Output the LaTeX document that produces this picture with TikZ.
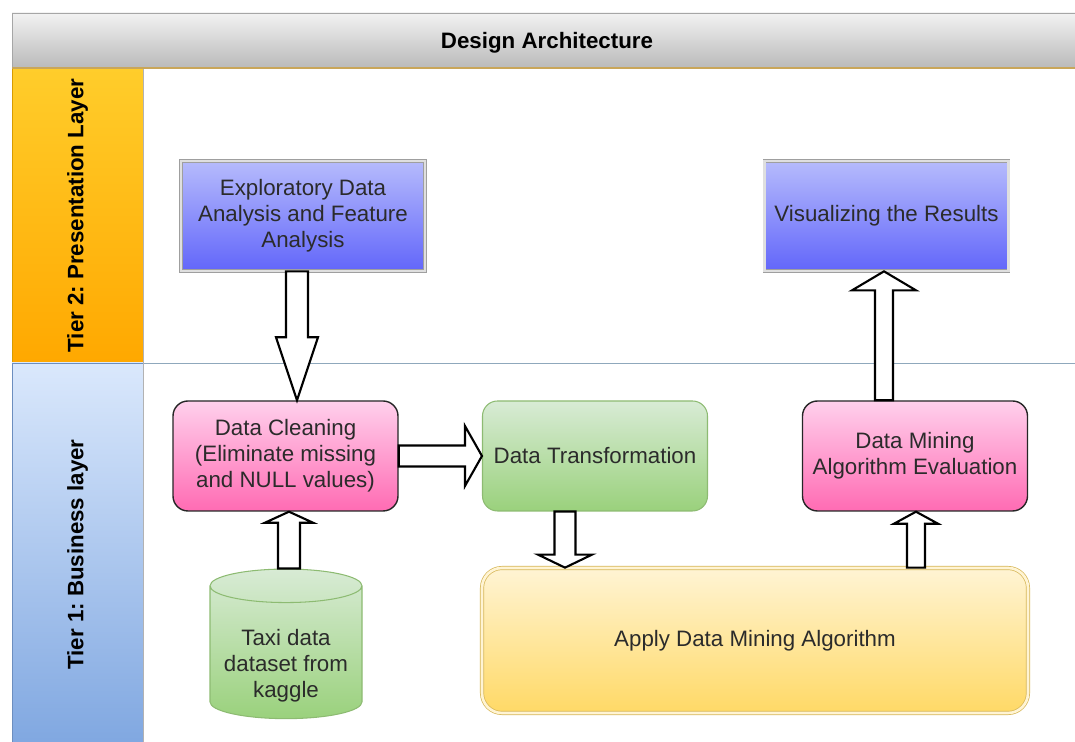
\documentclass[tikz,border=0pt]{standalone}
\usepackage{fontspec}
\setmainfont{Liberation Sans}
\usepackage{xcolor}
\definecolor{headTop}{HTML}{F2F2F2}
\definecolor{headBot}{HTML}{BABABA}
\definecolor{goldLine}{HTML}{C9A65A}
\definecolor{orangeTop}{HTML}{FFCD2B}
\definecolor{orangeBot}{HTML}{FFA800}
\definecolor{orangeLine}{HTML}{D79B00}
\definecolor{tierBlueTop}{HTML}{DAE8FC}
\definecolor{tierBlueBot}{HTML}{7EA6E0}
\definecolor{tierBlueLine}{HTML}{6C8EBF}
\definecolor{laneLine}{HTML}{8FA8BC}
\definecolor{blueTop}{HTML}{B6BBFC}
\definecolor{blueBot}{HTML}{6266FA}
\definecolor{pinkTop}{HTML}{FFD0EC}
\definecolor{pinkBot}{HTML}{FF6BB3}
\definecolor{greenTop}{HTML}{D8EBD5}
\definecolor{greenBot}{HTML}{9AD17C}
\definecolor{greenLine}{HTML}{8DBB72}
\definecolor{yellowTop}{HTML}{FFF4D4}
\definecolor{yellowBot}{HTML}{FFD966}
\definecolor{yellowLine}{HTML}{D6B656}
\definecolor{textGray}{HTML}{2B2B2B}
\usetikzlibrary{calc,shapes.geometric}
\frenchspacing

\begin{document}
\begin{tikzpicture}[
  font=\fontsize{12.7}{14.7}\selectfont,
  box/.style={rectangle, minimum width=4.88cm, minimum height=2.2cm, align=center, text=textGray},
  bluebox/.style={box, top color=blueTop, bottom color=blueBot, draw=gray!75, double=gray!25, double distance=1.2pt},
  pinkbox/.style={box, rounded corners=0.3cm, minimum width=4.5cm, top color=pinkTop, bottom color=pinkBot, draw=black!85, line width=0.8pt},
  greenbox/.style={box, rounded corners=0.3cm, minimum width=4.5cm, top color=greenTop, bottom color=greenBot, draw=greenLine, line width=0.6pt},
  fatarrow/.style={draw=black, fill=white, line width=1.2pt, line join=miter}
]
  \useasboundingbox (0,0) rectangle (21.5,14.84);
  % header and the two tiers
  \shade[top color=headTop, bottom color=headBot, draw=gray!70] (0.24,13.48) rectangle (21.7,14.58);
  \node[font=\fontsize{12.7}{14.7}\selectfont\bfseries] (title) at (10.94,13.98) {Design Architecture};
  \shade[top color=orangeTop, bottom color=orangeBot, draw=orangeLine] (0.24,7.58) rectangle (2.86,13.48);
  \shade[top color=tierBlueTop, bottom color=tierBlueBot, draw=tierBlueLine] (0.24,-0.2) rectangle (2.86,7.58);
  \draw[laneLine] (2.86,7.58) -- (21.7,7.58);
  \draw[gray!60] (2.86,-0.2) -- (2.86,13.48);
  \draw[goldLine, line width=0.8pt] (0.24,13.48) -- (21.7,13.48);
  \node[rotate=90, font=\fontsize{12.7}{14.7}\selectfont\bfseries] (tier2) at (1.55,10.53) {Tier 2: Presentation Layer};
  \node[rotate=90, font=\fontsize{12.7}{14.7}\selectfont\bfseries] (tier1) at (1.55,3.75) {Tier 1: Business layer};

  % presentation layer
  \node[bluebox] (eda) at (6.06,10.52) {Exploratory Data\\Analysis and Feature\\Analysis};
  \node[bluebox] (vis) at (17.73,10.52) {Visualizing the Results};

  % business layer
  \node[pinkbox] (clean) at (5.71,5.72) {Data Cleaning\\(Eliminate missing\\and NULL values)};
  \node[greenbox] (trans) at (11.9,5.72) {Data Transformation};
  \node[pinkbox] (eval) at (18.3,5.72) {Data Mining\\Algorithm Evaluation};
  \node[box, rounded corners=0.4cm, minimum width=10.92cm, minimum height=2.9cm, top color=yellowTop, bottom color=yellowBot,
    draw=yellowLine, double=yellowTop, double distance=1.5pt] (apply) at (15.1,2.03) {Apply Data Mining Algorithm};
  \node[cylinder, shape border rotate=90, aspect=0.27, minimum width=3.04cm, minimum height=2.9cm, inner sep=0pt, align=center, text=textGray,
    top color=greenTop, bottom color=greenBot, draw=greenLine, line width=0.6pt] (cyl) at (5.72,1.79)
    {\mbox{}\\[9.5pt]Taxi data\\dataset from\\kaggle};

  % ends of the block arrows
  \coordinate (a1s) at ($(eda.south)+(-0.12,0)$);
  \coordinate (a1e) at ($(clean.north)+(0.23,0)$);
  \coordinate (a2s) at (clean.east);
  \coordinate (a2e) at (trans.west);
  \coordinate (a3s) at ($(cyl.north)+(0.06,0)$);
  \coordinate (a3e) at ($(clean.south)+(0.07,0)$);
  \coordinate (a4s) at ($(trans.south)+(-0.6,0)$);
  \coordinate (a4e) at ($(apply.north)+(-3.8,0)$);
  \coordinate (a5s) at ($(apply.north)+(3.22,0)$);
  \coordinate (a5e) at ($(eval.south)+(0.02,0)$);
  \coordinate (a6s) at ($(eval.north)+(-0.62,0)$);
  \coordinate (a6e) at ($(vis.south)+(-0.05,0)$);
  % block arrows: start/end/shaft half width/head half width/head length
  \foreach \s/\e/\w/\h/\l in {a1s/a1e/0.22/0.42/1.26, a2s/a2e/0.21/0.6/0.34, a3s/a3e/0.22/0.48/0.22,
      a4s/a4e/0.21/0.54/0.26, a5s/a5e/0.18/0.44/0.24, a6s/a6e/0.18/0.64/0.38} {
    \coordinate (tipbase) at ($(\e)!\l cm!(\s)$);
    \draw[fatarrow] ($(\s)!\w cm!90:(\e)$) -- ($(tipbase)!\w cm!90:(\e)$) -- ($(tipbase)!\h cm!90:(\e)$) -- (\e)
      -- ($(tipbase)!\h cm!-90:(\e)$) -- ($(tipbase)!\w cm!-90:(\e)$) -- ($(\s)!\w cm!-90:(\e)$) -- cycle;
  }
\end{tikzpicture}
\end{document}
